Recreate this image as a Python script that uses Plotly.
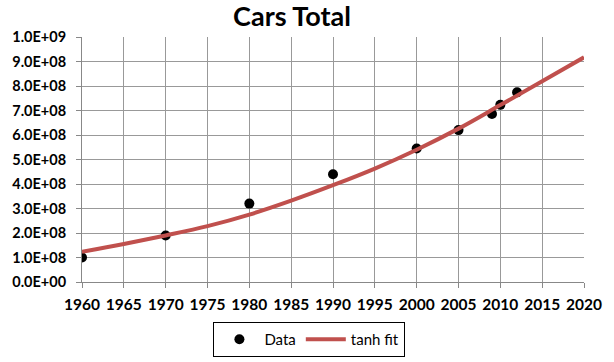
import plotly.graph_objects as go

# Data points
data_years = [1960, 1970, 1980, 1990, 2000, 2005, 2009, 2010, 2012]
data_cars = [1.0e8, 1.9e8, 3.2e8, 4.4e8, 5.45e8, 6.2e8, 6.86e8, 7.23e8, 7.74e8]

# tanh fit curve
fit_years = [1960, 1965, 1970, 1975, 1980, 1985, 1990, 1995, 2000, 2005, 2010, 2015, 2020]
fit_cars = [1.23e8, 1.55e8, 1.90e8, 2.28e8, 2.75e8, 3.32e8, 3.95e8, 4.63e8, 5.40e8, 6.26e8, 7.22e8, 8.19e8, 9.17e8]

y_tickvals = [0, 1e8, 2e8, 3e8, 4e8, 5e8, 6e8, 7e8, 8e8, 9e8, 1e9]
y_ticktext = ["0.0E+00", "1.0E+08", "2.0E+08", "3.0E+08", "4.0E+08", "5.0E+08",
              "6.0E+08", "7.0E+08", "8.0E+08", "9.0E+08", "1.0E+09"]
x_tickvals = list(range(1960, 2021, 5))

font_family = "Lato, 'Open Sans', sans-serif"

fig = go.Figure()
fig.add_trace(go.Scatter(
    x=data_years, y=data_cars, mode="markers", name="Data",
    marker=dict(color="black", size=10),
))
fig.add_trace(go.Scatter(
    x=fit_years, y=fit_cars, mode="lines", name="tanh fit",
    line=dict(color="#C0504D", width=4, shape="spline"),
))

fig.update_layout(
    width=614, height=362,
    margin=dict(l=82, r=30, t=37, b=80, autoexpand=False),
    paper_bgcolor="white", plot_bgcolor="white",
    title=dict(text="<b>Cars Total</b>", x=0.4756, xanchor="center", y=0.955, yanchor="middle",
               font=dict(family=font_family, size=27, color="black")),
    font=dict(family=font_family, size=13, color="black"),
    showlegend=True,
    legend=dict(orientation="h", x=0.453, xanchor="center", y=-0.163, yanchor="top",
                bordercolor="black", borderwidth=1, bgcolor="white",
                font=dict(family=font_family, size=15, color="black"),
                itemwidth=40),
)
fig.update_xaxes(
    range=[1960, 2020], tickvals=x_tickvals,
    ticktext=[f"<b>{v}</b>" for v in x_tickvals],
    showgrid=True, gridcolor="#999999", gridwidth=1,
    showline=True, linecolor="#888888", linewidth=1,
    ticks="outside", ticklen=5, tickcolor="#888888",
    ticklabelstandoff=3, automargin=False,
    zeroline=False, mirror=False,
    tickfont=dict(size=15.5),
)
fig.update_yaxes(
    range=[0, 1e9], tickvals=y_tickvals,
    ticktext=[f"<b>{t}</b>" for t in y_ticktext],
    showgrid=True, gridcolor="#999999", gridwidth=1,
    showline=True, linecolor="#888888", linewidth=1,
    ticks="outside", ticklen=5, tickcolor="#888888",
    ticklabelstandoff=7, automargin=False,
    zeroline=False,
    tickfont=dict(size=14.5),
)

fig.write_html("out.html", config={"displayModeBar": False},
               post_script="document.body.style.margin='0';document.body.style.overflow='hidden';")
